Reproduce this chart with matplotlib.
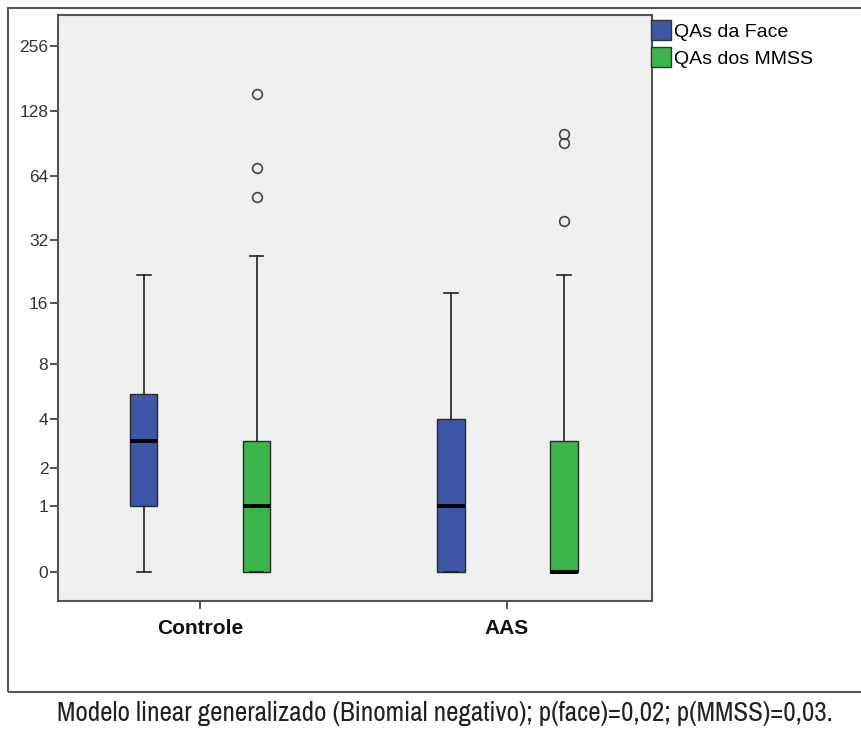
import numpy as np
import matplotlib
matplotlib.use("Agg")
import matplotlib.pyplot as plt
from matplotlib.patches import Patch, Rectangle

# ---------------- dados ----------------
grupos = ["Controle", "AAS"]
series = ["QAs da Face", "QAs dos MMSS"]
cores = ["#3d56a6", "#3bb54a"]

# (min whisker, Q1, mediana, Q3, max whisker)
face_stats = [[0, 1, 3, 5.5, 22], [0, 0, 1, 4, 18]]
mmss_stats = [[0, 0, 1, 3, 27], [0, 0, 0, 3, 22]]
face_out = [[], []]
mmss_out = [[154, 70, 51], [100, 91, 39.5]]

yticks = [0, 1, 2, 4, 8, 16, 32, 64, 128, 256]
legenda = "Modelo linear generalizado (Binomial negativo); p(face)=0,02; p(MMSS)=0,03."

sans = ["Liberation Sans", "DejaVu Sans"]
narrow = ["Liberation Sans Narrow", "Archivo Narrow", "DejaVu Sans"]

# ---------------- figura ----------------
fig = plt.figure(figsize=(8.61, 7.29), dpi=100)
ax = fig.add_axes([58 / 861, 1 - 601 / 729, 594 / 861, 586 / 729])
ax.set_facecolor("#f0f0f0")

# eixo y em escala log2(y+1)
fwd = lambda y: np.log2(np.asarray(y, dtype=float) + 1)
inv = lambda v: 2 ** np.asarray(v, dtype=float) - 1
ax.set_yscale("function", functions=(fwd, inv))

off = 0.184
larg = 0.091
todos = [(face_stats, face_out, -off, cores[0]), (mmss_stats, mmss_out, off, cores[1])]
for stats, outs, dx, cor in todos:
    bx = []
    for s, o in zip(stats, outs):
        bx.append(dict(whislo=s[0], q1=s[1], med=s[2], q3=s[3], whishi=s[4], fliers=o))
    pos = np.arange(len(grupos)) + dx
    ax.bxp(bx, positions=pos, widths=larg, patch_artist=True, showfliers=True,
           boxprops=dict(facecolor=cor, edgecolor="#2a2a2a", linewidth=1.0),
           medianprops=dict(color="black", linewidth=2.8, solid_capstyle="butt"),
           whiskerprops=dict(color="#222222", linewidth=1.2),
           capprops=dict(color="#222222", linewidth=1.2),
           capwidths=larg * 0.5,
           flierprops=dict(marker="o", markerfacecolor="none", markeredgecolor="#444444",
                           markersize=7, markeredgewidth=1.2))

ax.set_xlim(-0.4625, 1.472)
ax.set_ylim(-0.264, 355)
ax.set_yticks(yticks)
ax.set_yticklabels([str(t) for t in yticks])
ax.yaxis.set_minor_locator(matplotlib.ticker.NullLocator())
ax.set_xticks(np.arange(len(grupos)))
ax.set_xticklabels(grupos, fontweight="bold", fontsize=15, family=sans, color="#111111")
for lab in ax.get_yticklabels():
    lab.set_family(sans)
    lab.set_fontsize(12.5)
    lab.set_color("#333333")
ax.tick_params(axis="y", length=6, width=1.2, color="#333333", pad=1)
ax.tick_params(axis="x", length=6, width=1.2, color="#333333", pad=7)
for sp in ax.spines.values():
    sp.set_color("#555555")
    sp.set_linewidth(1.5)

handles = [Patch(facecolor=c, edgecolor="#333333", label=l) for c, l in zip(cores, series)]
fig.legend(handles=handles, loc="upper left", bbox_to_anchor=(651 / 861, 1 - 20 / 729),
           frameon=False, handlelength=1.05, handleheight=1.2, handletextpad=0.15,
           labelspacing=0.35, borderaxespad=0, borderpad=0,
           prop=dict(family=sans, size=14))

# moldura externa
fig.patches.append(Rectangle((8 / 861, 1 - 692 / 729), 1.0, 684 / 729, transform=fig.transFigure,
                             fill=False, edgecolor="#555555", linewidth=1.5))

fig.text(445 / 861, 1 - 714 / 729, legenda, ha="center", va="center", fontsize=19.5,
         family=narrow, color="#222222")

fig.savefig("out.png", dpi=100)
